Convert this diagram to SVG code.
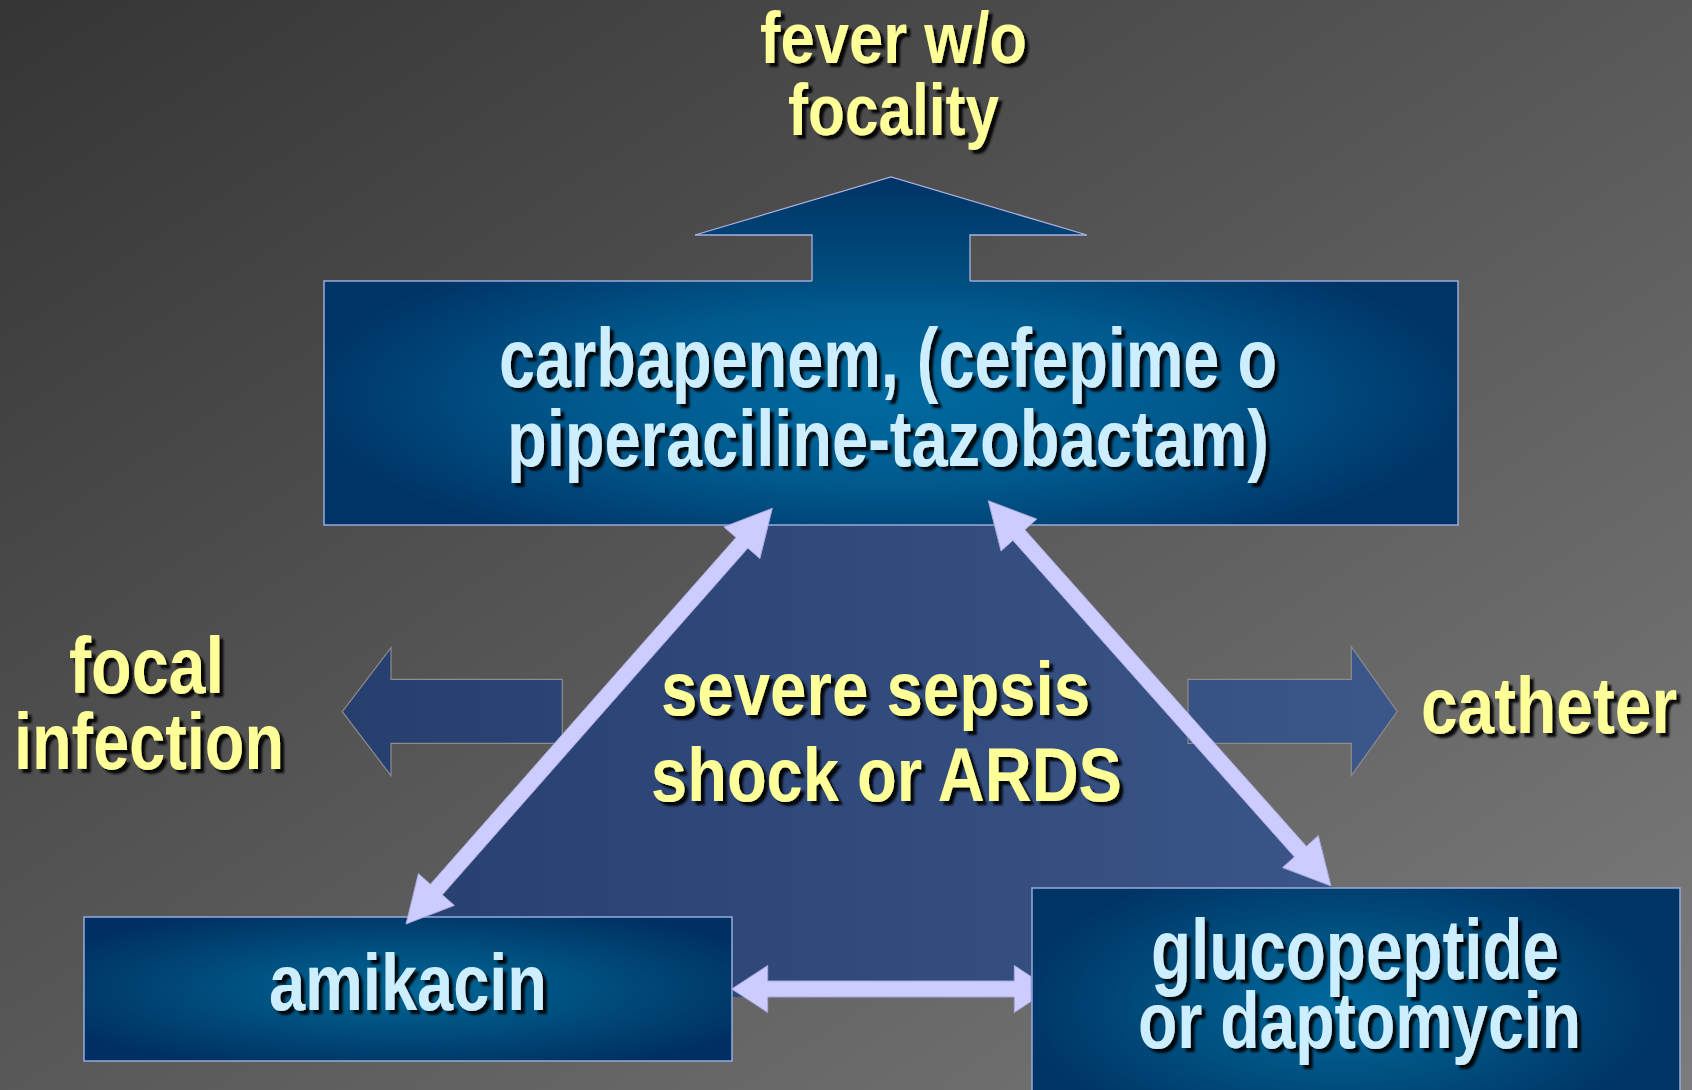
<svg xmlns="http://www.w3.org/2000/svg" width="1692" height="1090" viewBox="0 0 1692 1090">
<defs>
<linearGradient id="bg" x1="0" y1="0" x2="1" y2="1">
<stop offset="0" stop-color="#353535"/>
<stop offset="1" stop-color="#7c7c7c"/>
</linearGradient>
<linearGradient id="tri" gradientUnits="userSpaceOnUse" x1="300" y1="0" x2="1430" y2="0">
<stop offset="0" stop-color="#263e6e"/>
<stop offset="1" stop-color="#3c578a"/>
</linearGradient>
<linearGradient id="upg" gradientUnits="userSpaceOnUse" x1="0" y1="177" x2="0" y2="285">
<stop offset="0" stop-color="#003366"/>
<stop offset="1" stop-color="#00507f"/>
</linearGradient>
<radialGradient id="boxTop" gradientUnits="userSpaceOnUse" cx="891" cy="395" r="600" gradientTransform="translate(891 395) scale(1 0.29) translate(-891 -395)">
<stop offset="0" stop-color="#006aa0"/>
<stop offset="0.5" stop-color="#005a8e"/>
<stop offset="1" stop-color="#003366"/>
</radialGradient>
<radialGradient id="boxA" cx="0.5" cy="0.5" r="0.6">
<stop offset="0" stop-color="#006796"/>
<stop offset="0.45" stop-color="#00507f"/>
<stop offset="1" stop-color="#003063"/>
</radialGradient>
<radialGradient id="boxG" gradientUnits="userSpaceOnUse" cx="1340" cy="1005" r="330" gradientTransform="translate(1340 1005) scale(1 0.45) translate(-1340 -1005)">
<stop offset="0" stop-color="#006a9e"/>
<stop offset="0.5" stop-color="#00507f"/>
<stop offset="1" stop-color="#003366"/>
</radialGradient>
<filter id="sh" x="-10%" y="-20%" width="130%" height="150%">
<feDropShadow dx="4" dy="4" stdDeviation="1.2" flood-color="#000" flood-opacity="0.9"/>
</filter>
</defs>
<style>
.t{font-family:"Liberation Sans Narrow","Arial Narrow","Liberation Sans",Arial,sans-serif;font-weight:bold;filter:url(#sh)}
.y{fill:#ffff99}
.c{fill:#cceeff}
.box{stroke:#99aadd;stroke-width:1.5}
.blk{stroke:#8c8c8c;stroke-width:1.2;fill:url(#tri)}
.lav{fill:#ccccff;stroke:#a8a8dd;stroke-width:1}
</style>
<rect x="0" y="0" width="1692" height="1090" fill="url(#bg)"/>

<g id="fever-label">
<text class="t y" x="760" y="63" font-size="72" textLength="267" lengthAdjust="spacingAndGlyphs">fever w/o</text>
<text class="t y" x="788" y="135" font-size="72" textLength="211" lengthAdjust="spacingAndGlyphs">focality</text>
</g>

<g id="severe-sepsis">
<polygon points="883,382 342,997 1430,997" fill="url(#tri)"/>
<text class="t y" x="661" y="715" font-size="76" textLength="429" lengthAdjust="spacingAndGlyphs">severe sepsis</text>
<text class="t y" x="651" y="801" font-size="76" textLength="471" lengthAdjust="spacingAndGlyphs">shock or ARDS</text>
</g>

<g id="carbapenem">
<rect class="box" x="324" y="281" width="1134" height="244" fill="url(#boxTop)"/>
<polygon points="891,177 1087,235 970,235 970,283 812,283 812,235 695,235" fill="url(#upg)"/>
<polyline points="812,281 812,235 695,235 891,177 1087,235 970,235 970,281" fill="none" stroke="#aab0e0" stroke-width="1.3"/>
<text class="t c" x="499" y="387" font-size="84" textLength="778" lengthAdjust="spacingAndGlyphs">carbapenem, (cefepime o</text>
<text class="t c" x="507" y="466" font-size="80" textLength="762" lengthAdjust="spacingAndGlyphs">piperaciline-tazobactam)</text>
</g>

<g id="amikacin">
<rect class="box" x="84" y="917" width="648" height="144" fill="url(#boxA)"/>
<text class="t c" x="269" y="1010" font-size="80" textLength="278" lengthAdjust="spacingAndGlyphs">amikacin</text>
</g>

<g id="glucopeptide">
<rect class="box" x="1032" y="888" width="648" height="246" fill="url(#boxG)"/>
<text class="t c" x="1151" y="979" font-size="86" textLength="408" lengthAdjust="spacingAndGlyphs">glucopeptide</text>
<text class="t c" x="1138" y="1048" font-size="80" textLength="443" lengthAdjust="spacingAndGlyphs">or daptomycin</text>
</g>

<g id="focal-label">
<text class="t y" x="69" y="693" font-size="80" textLength="155" lengthAdjust="spacingAndGlyphs">focal</text>
<text class="t y" x="14" y="769" font-size="80" textLength="270" lengthAdjust="spacingAndGlyphs">infection</text>
</g>

<g id="catheter-label">
<text class="t y" x="1421" y="733" font-size="79" textLength="256" lengthAdjust="spacingAndGlyphs">catheter</text>
</g>

<g id="connectors">
<polygon class="blk" points="342.3,711.7 391,647.7 391,679.3 562.3,679.3 562.3,743.3 391,743.3 391,775.7"/>
<polygon class="blk" points="1188,679.3 1351.3,679.3 1351.3,646.7 1397.2,711.5 1351.3,775.7 1351.3,743.3 1188,743.3"/>
<polygon class="lav" points="731.7,989 767.7,965.5 767.7,981 1014.3,981 1014.3,965.5 1031,976.5 1031,1001.5 1014.3,1012.5 1014.3,997 767.7,997 767.7,1012.5"/>
<polygon class="lav" points="772.3,508.3 759.9,558.7 747.9,548.1 442.4,894.8 454.4,905.4 406,924 418.4,873.6 430.4,884.2 735.9,537.5 723.9,526.9"/>
<polygon class="lav" points="988.3,500.7 1036.8,519.1 1024.9,529.8 1306.4,846.3 1318.3,835.6 1331,886 1282.5,867.6 1294.4,856.9 1012.9,540.4 1001,551.1"/>
</g>
</svg>
